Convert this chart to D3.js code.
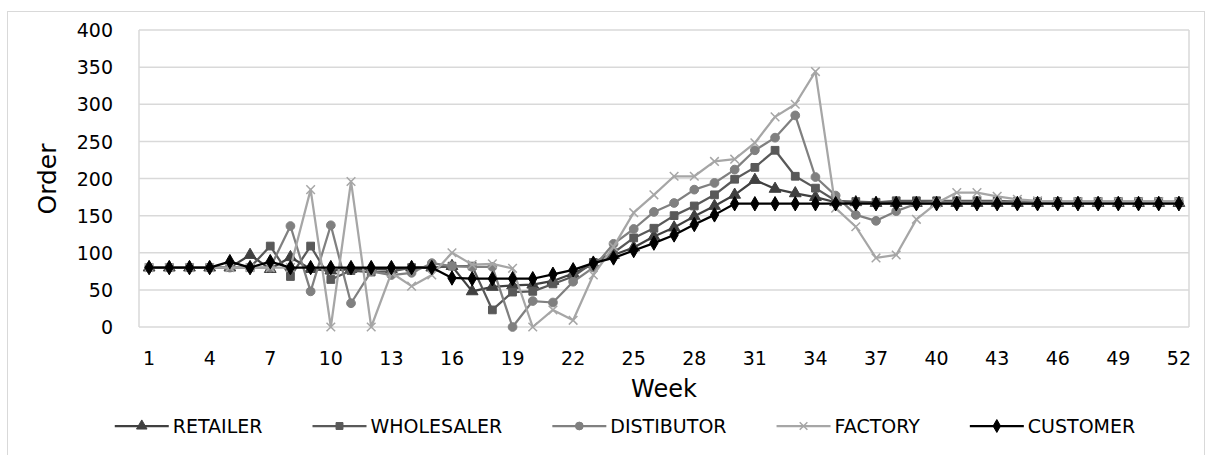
<!DOCTYPE html>
<html><head><meta charset="utf-8">
<script src="https://cdn.jsdelivr.net/npm/d3@7"></script>
<style>body{margin:0;background:#fff}svg{display:block}text{font-family:"DejaVu Sans",sans-serif;fill:#000}</style>
</head><body><svg id="c" width="1213" height="455"></svg>
<script>
const weeks = d3.range(1, 53);
const xTickLabels = [1,4,7,10,13,16,19,22,25,28,31,34,37,40,43,46,49,52];
const yTickLabels = [0,50,100,150,200,250,300,350,400];
const seriesNames = ["RETAILER","WHOLESALER","DISTIBUTOR","FACTORY","CUSTOMER"];
const retailer = [80,80,80,80,80,97,78,94,78,76,78,78,78,80,80,82,48,54,56,57,62,72,85,97,107,122,134,149,163,178,198,186,180,175,168,168,167,167,167,167,167,167,167,167,167,167,167,167,167,167,167,167];
const wholesaler = [80,80,80,80,80,80,109,68,109,64,76,74,75,80,80,82,82,23,47,48,58,68,87,100,120,133,150,163,178,199,215,238,203,187,170,169,168,170,170,170,170,170,170,169,169,169,169,169,169,169,169,169];
const distributor = [80,80,80,80,80,80,80,136,48,137,32,75,70,73,86,82,81,81,0,35,33,61,80,112,132,155,167,185,194,212,238,255,285,202,177,151,143,156,166,168,168,168,168,168,168,168,168,168,168,168,168,168];
const factory = [80,80,80,80,80,80,80,80,185,0,196,0,73,55,70,100,84,85,79,0,23,9,70,108,154,178,203,203,223,226,248,283,300,344,160,135,93,97,145,167,181,181,176,172,170,169,169,169,169,169,169,169];
const customer = [80,80,80,80,88,80,88,80,80,80,80,80,80,80,80,66,65,65,65,65,71,77,86,93,103,113,124,138,151,166,166,166,166,166,166,166,166,166,166,166,166,166,166,166,166,166,166,166,166,166,166,166];
const seriesValues = [retailer, wholesaler, distributor, factory, customer];
const colors = ["#404040","#595959","#808080","#a6a6a6","#000000"];
const symbols = [d3.symbolTriangle, d3.symbolSquare, d3.symbolCircle, d3.symbolX, d3.symbolDiamond];
const symSizes = [60, 60, 60, 50, 60];

const svg = d3.select("#c");
svg.append("rect").attr("x",7.5).attr("y",11.5).attr("width",1197).attr("height",452)
  .attr("fill","#fff").attr("stroke","#d9d9d9").attr("stroke-width",1);

const L = 139, R = 1189, T = 30, B = 327;
const x = d3.scaleBand().domain(weeks).range([L, R]);
const y = d3.scaleLinear().domain([0, 400]).range([B, T]);
const cx = w => x(w) + x.bandwidth()/2;

// gridlines
svg.append("g").selectAll("line").data(yTickLabels).join("line")
  .attr("x1", L).attr("x2", R).attr("y1", d => y(d)).attr("y2", d => y(d))
  .attr("stroke", "#d9d9d9").attr("stroke-width", 1.5);
svg.append("line").attr("x1",L).attr("x2",L).attr("y1",T).attr("y2",B).attr("stroke","#d9d9d9").attr("stroke-width",1.5);
svg.append("line").attr("x1",R).attr("x2",R).attr("y1",T).attr("y2",B).attr("stroke","#d9d9d9").attr("stroke-width",1.5);

// y axis labels
const yAxis = d3.axisLeft(y).tickValues(yTickLabels).tickSize(0).tickPadding(0);
const yg = svg.append("g").attr("transform", `translate(${113},0)`).call(yAxis);
yg.select(".domain").remove();
yg.selectAll("text").attr("font-size", 19).attr("font-family", '"DejaVu Sans",sans-serif').attr("fill","#000").attr("dy","0.35em");

// x axis labels
const xAxis = d3.axisBottom(x).tickValues(xTickLabels).tickSize(0).tickPadding(0);
const xg = svg.append("g").attr("transform", `translate(0,${B})`).call(xAxis);
xg.select(".domain").remove();
xg.selectAll("text").attr("font-size", 19).attr("font-family", '"DejaVu Sans",sans-serif').attr("fill","#000").attr("y", 38).attr("dy", 0);

// titles
svg.append("text").attr("x", (L+R)/2).attr("y", 397).attr("text-anchor","middle").attr("font-size", 24).text("Week");
svg.append("text").attr("transform","translate(56,179) rotate(-90)").attr("text-anchor","middle").attr("font-size", 25).text("Order");

// series
const line = d3.line().x((d,i) => cx(weeks[i])).y(d => y(d));
seriesValues.forEach((vals, si) => {
  const g = svg.append("g");
  g.append("path").datum(vals).attr("d", line).attr("fill","none")
    .attr("stroke", colors[si]).attr("stroke-width", 2.25).attr("stroke-linejoin","round");
  const sym = d3.symbol().type(symbols[si]).size(symSizes[si]);
  g.selectAll("path.m").data(vals).join("path").attr("class","m")
    .attr("transform", (d,i) => `translate(${cx(weeks[i])},${y(d)})`)
    .attr("d", sym())
    .attr("fill", si===3 ? "none" : colors[si])
    .attr("stroke", colors[si]).attr("stroke-width", si===3 ? 1.5 : 1);
});

// legend
const lg = svg.append("g");
const items = seriesNames.map((n, i) => {
  const gi = lg.append("g");
  gi.append("line").attr("x1",0).attr("x2",54).attr("y1",0).attr("y2",0).attr("stroke",colors[i]).attr("stroke-width",2.25);
  gi.append("path").attr("transform","translate(27,0)").attr("d", d3.symbol().type(symbols[i]).size(symSizes[i]*0.8)())
    .attr("fill", i===3 ? "none" : colors[i]).attr("stroke", colors[i]).attr("stroke-width", i===3?1.5:1);
  const t = gi.append("text").attr("x", 58).attr("y", 0).attr("dy","0.35em").attr("font-size", 19).text(n);
  return {g: gi, w: 58 + t.node().getComputedTextLength()};
});
let total = items.reduce((a, b) => a + b.w, 0) + 50 * (items.length - 1);
let start = 625 - total/2;
items.forEach(it => { it.g.attr("transform", `translate(${start},426)`); start += it.w + 50; });
</script></body></html>
